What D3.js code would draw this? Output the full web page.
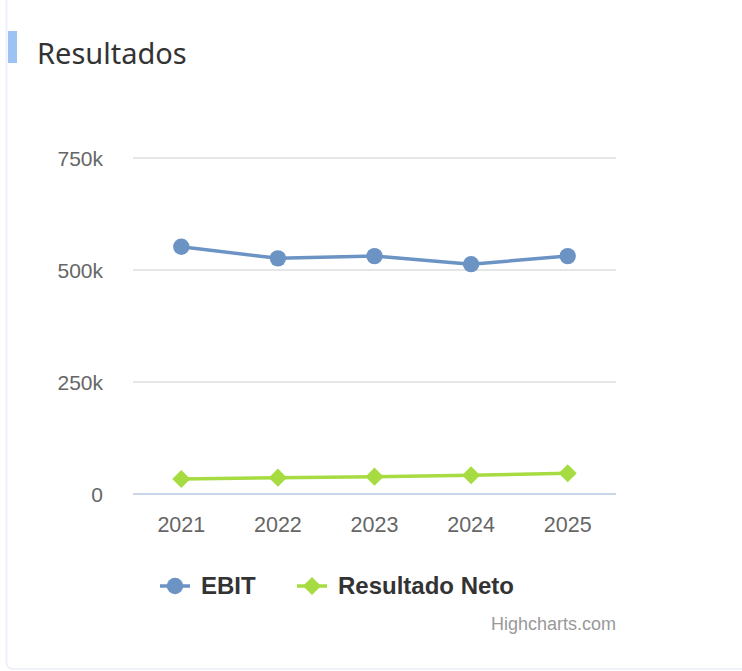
<!DOCTYPE html>
<html>
<head>
<meta charset="utf-8">
<script src="https://d3js.org/d3.v7.min.js"></script>
<style>
  body { margin: 0; background: #fff; }
  svg { display: block; }
</style>
</head>
<body>
<div id="my_dataviz"></div>
<script>
// data
var years = ["2021", "2022", "2023", "2024", "2025"];
var ebit = [552000, 526000, 531000, 513000, 531000];
var resultadoNeto = [33500, 36500, 38700, 41800, 46300];
var yTicks = [0, 250000, 500000, 750000];
var yTickLabels = ["0", "250k", "500k", "750k"];
var seriesNames = ["EBIT", "Resultado Neto"];
var seriesColors = ["#6b93c4", "#a6dc42"];

var width = 742, height = 671;
var plot = {left: 133, right: 616, top: 158, bottom: 494};

var svg = d3.select("#my_dataviz")
  .append("svg")
    .attr("width", width)
    .attr("height", height);

// card outline
svg.append("rect")
  .attr("x", 6.5).attr("y", -20)
  .attr("width", width + 20).attr("height", 689)
  .attr("rx", 6)
  .style("fill", "#fff")
  .style("stroke", "#eef1f9")
  .style("stroke-width", 2);

// title with accent bar
svg.append("rect")
  .attr("x", 8).attr("y", 31)
  .attr("width", 9).attr("height", 32)
  .style("fill", "#9cc3f2");
svg.append("text")
  .attr("x", 37).attr("y", 64)
  .style("font-family", "Noto Sans")
  .style("font-size", "29px")
  .style("fill", "#333")
  .text("Resultados");

// scales
var x = d3.scaleBand()
  .domain(years)
  .range([plot.left, plot.right]);
var y = d3.scaleLinear()
  .domain([0, 750000])
  .range([plot.bottom, plot.top]);

// gridlines
svg.append("g")
  .selectAll("line")
  .data(yTicks.slice(1))
  .enter()
  .append("line")
    .attr("x1", plot.left).attr("x2", plot.right)
    .attr("y1", function(d) { return y(d); })
    .attr("y2", function(d) { return y(d); })
    .style("stroke", "#e6e6e6")
    .style("stroke-width", 2);

// x axis line
svg.append("line")
  .attr("x1", plot.left).attr("x2", plot.right)
  .attr("y1", y(0)).attr("y2", y(0))
  .style("stroke", "#ccd6eb")
  .style("stroke-width", 2);

// y labels
svg.append("g")
  .selectAll("text")
  .data(yTicks)
  .enter()
  .append("text")
    .attr("x", 103)
    .attr("y", function(d) { return y(d) + 8; })
    .attr("text-anchor", "end")
    .style("font-family", "Liberation Sans")
    .style("font-size", "21px")
    .style("fill", "#666")
    .text(function(d, i) { return yTickLabels[i]; });

// x labels
svg.append("g")
  .selectAll("text")
  .data(years)
  .enter()
  .append("text")
    .attr("x", function(d) { return x(d) + x.bandwidth() / 2; })
    .attr("y", 532)
    .attr("text-anchor", "middle")
    .style("font-family", "Liberation Sans")
    .style("font-size", "21.5px")
    .style("fill", "#666")
    .text(function(d) { return d; });

// lines
var allSeries = [ebit, resultadoNeto];
var line = d3.line()
  .x(function(d, i) { return x(years[i]) + x.bandwidth() / 2; })
  .y(function(d) { return y(d); });

var symbols = [d3.symbolCircle, d3.symbolDiamond2];
var symbolSizes = [210, 210];

allSeries.forEach(function(values, s) {
  svg.append("path")
    .datum(values)
    .attr("d", line)
    .style("fill", "none")
    .style("stroke", seriesColors[s])
    .style("stroke-width", 3.5)
    .style("stroke-linejoin", "round");
  svg.append("g")
    .selectAll("path")
    .data(values)
    .enter()
    .append("path")
      .attr("transform", function(d, i) {
        return "translate(" + (x(years[i]) + x.bandwidth() / 2) + "," + y(d) + ")";
      })
      .attr("d", d3.symbol().type(symbols[s]).size(symbolSizes[s]))
      .style("fill", seriesColors[s]);
});

// legend
var legendX = [160, 297];
seriesNames.forEach(function(name, s) {
  var g = svg.append("g").attr("transform", "translate(" + legendX[s] + ",586)");
  g.append("line")
    .attr("x1", 0).attr("x2", 30)
    .style("stroke", seriesColors[s])
    .style("stroke-width", 3.5);
  g.append("path")
    .attr("transform", "translate(15,0)")
    .attr("d", d3.symbol().type(symbols[s]).size(symbolSizes[s]))
    .style("fill", seriesColors[s]);
  g.append("text")
    .attr("x", 41).attr("y", 8)
    .style("font-family", "Liberation Sans")
    .style("font-size", "24px")
    .style("font-weight", "bold")
    .style("fill", "#333")
    .text(name);
});

// credits
svg.append("text")
  .attr("x", 616).attr("y", 630)
  .attr("text-anchor", "end")
  .style("font-family", "Liberation Sans")
  .style("font-size", "18px")
  .style("fill", "#999")
  .text("Highcharts.com");
</script>
</body>
</html>
